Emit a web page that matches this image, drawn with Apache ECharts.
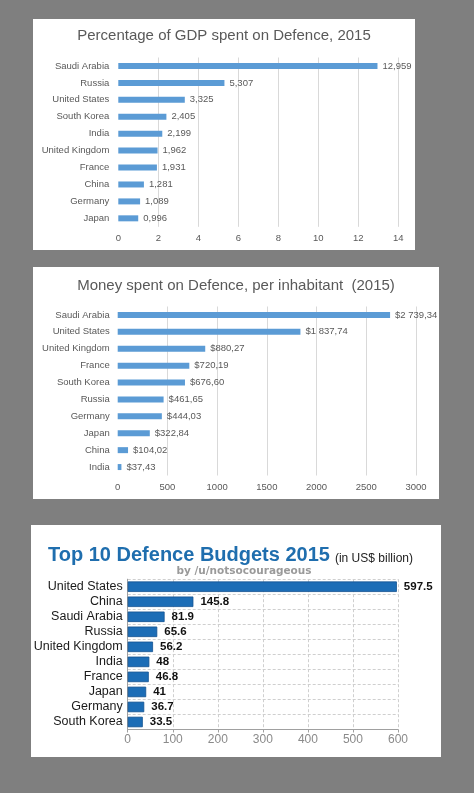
<!DOCTYPE html>
<html>
<head>
<meta charset="utf-8">
<script src="https://cdn.jsdelivr.net/npm/echarts@6/dist/echarts.min.js"></script>
<style>
html,body{margin:0;padding:0;background:#7f7f7f;}
#chart{width:474px;height:793px;}
</style>
</head>
<body>
<div id="chart"></div>
<script>
// ---- Data ----
var gdpCategories = ['Saudi Arabia','Russia','United States','South Korea','India','United Kingdom','France','China','Germany','Japan'];
var gdpValues = [12.959, 5.307, 3.325, 2.405, 2.199, 1.962, 1.931, 1.281, 1.089, 0.996];
var gdpTicks = {min: 0, max: 14, interval: 2};

var perCapCategories = ['Saudi Arabia','United States','United Kingdom','France','South Korea','Russia','Germany','Japan','China','India'];
var perCapValues = [2739.34, 1837.74, 880.27, 720.19, 676.60, 461.65, 444.03, 322.84, 104.02, 37.43];
var perCapTicks = {min: 0, max: 3000, interval: 500};

var budgetCategories = ['United States','China','Saudi Arabia','Russia','United Kingdom','India','France','Japan','Germany','South Korea'];
var budgetValues = [597.5, 145.8, 81.9, 65.6, 56.2, 48, 46.8, 41, 36.7, 33.5];
var budgetTicks = {min: 0, max: 600, interval: 100};

var titles = {
  gdp: 'Percentage of GDP spent on Defence, 2015',
  perCap: 'Money spent on Defence, per inhabitant  (2015)',
  budget: 'Top 10 Defence Budgets 2015',
  budgetUnit: '(in US$ billion)',
  budgetBy: 'by /u/notsocourageous'
};

// ---- Formatters ----
function fmtGdp(v){ return v.toFixed(3).replace('.', ','); }
function fmtPerCap(v){
  var parts = v.toFixed(2).split('.');
  var intPart = parts[0].replace(/\B(?=(\d{3})+(?!\d))/g, ' ');
  return '$' + intPart + ',' + parts[1];
}
function plain(v){ return String(v); }

var chart = echarts.init(document.getElementById('chart'));
var grayText = '#595959';
var font = 'Liberation Sans, Arial, sans-serif';

var option = {
  backgroundColor: '#7f7f7f',
  animation: false,
  graphic: [
    {type:'rect', shape:{x:33, y:19, width:382, height:231}, style:{fill:'#ffffff'}, z:-10},
    {type:'rect', shape:{x:33, y:267, width:406, height:232}, style:{fill:'#ffffff'}, z:-10},
    {type:'rect', shape:{x:31, y:525, width:410, height:232}, style:{fill:'#ffffff'}, z:-10}
  ],
  title: [
    {text: titles.gdp, left: 224, top: 27, textAlign: 'center', padding: 0,
     textStyle:{fontFamily: font, fontSize: 15, fontWeight: 'normal', color: '#595959', lineHeight: 18}},
    {text: titles.perCap, left: 236, top: 277, textAlign: 'center', padding: 0,
     textStyle:{fontFamily: font, fontSize: 15, fontWeight: 'normal', color: '#595959', lineHeight: 18}},
    {text: '{a|' + titles.budget + '} {b|' + titles.budgetUnit + '}', left: 48, top: 541, padding: 0,
     textStyle:{rich:{
       a:{fontFamily: font, fontSize: 20, fontWeight: 'bold', color: '#1f6eae', lineHeight: 24, verticalAlign:'bottom'},
       b:{fontFamily: font, fontSize: 12, fontWeight: 'normal', color: '#222222', lineHeight: 20, verticalAlign:'bottom'}
     }}},
    {text: titles.budgetBy, left: 244, top: 565, textAlign: 'center', padding: 0,
     textStyle:{fontFamily: 'DejaVu Sans, sans-serif', fontSize: 10.5, fontWeight: 'bold', color: '#9a9a9a', lineHeight: 12}}
  ],
  grid: [
    {left: 118.3, width: 280, top: 57.5, height: 169.3},
    {left: 117.7, width: 298.3, top: 306.5, height: 169},
    {left: 127.7, width: 270.3, top: 579.2, height: 150.3}
  ],
  xAxis: [
    {type:'value', gridIndex:0, min:gdpTicks.min, max:gdpTicks.max, interval:gdpTicks.interval,
     axisLine:{show:false}, axisTick:{show:false},
     axisLabel:{fontFamily: font, fontSize: 9.5, color: grayText, margin: 7, formatter: plain},
     splitLine:{show:true, showMinLine:false, lineStyle:{color:'#d9d9d9', width:1}}},
    {type:'value', gridIndex:1, min:perCapTicks.min, max:perCapTicks.max, interval:perCapTicks.interval,
     axisLine:{show:false}, axisTick:{show:false},
     axisLabel:{fontFamily: font, fontSize: 9.5, color: grayText, margin: 7, formatter: plain},
     splitLine:{show:true, showMinLine:false, lineStyle:{color:'#d9d9d9', width:1}}},
    {type:'value', gridIndex:2, min:budgetTicks.min, max:budgetTicks.max, interval:budgetTicks.interval,
     axisLine:{show:true, lineStyle:{color:'#a0a0a0', width:1}},
     axisTick:{show:true, length:3, lineStyle:{color:'#a0a0a0'}},
     axisLabel:{fontFamily: font, fontSize: 12, color: '#8a8a8a', margin: 4, formatter: plain},
     splitLine:{show:true, lineStyle:{color:'#cfcfcf', width:1, type:[3,2]}}}
  ],
  yAxis: [
    {type:'category', gridIndex:0, data: gdpCategories, inverse:true,
     axisLine:{show:false}, axisTick:{show:false},
     axisLabel:{fontFamily: font, fontSize: 9.5, color: grayText, margin: 9, interval: 0}},
    {type:'category', gridIndex:1, data: perCapCategories, inverse:true,
     axisLine:{show:false}, axisTick:{show:false},
     axisLabel:{fontFamily: font, fontSize: 9.5, color: grayText, margin: 8, interval: 0}},
    {type:'category', gridIndex:2, data: budgetCategories, inverse:true,
     axisLine:{show:true, lineStyle:{color:'#a0a0a0', width:1}}, axisTick:{show:false},
     axisLabel:{fontFamily: font, fontSize: 12.5, color: '#1a1a1a', margin: 5, interval: 0},
     splitLine:{show:true, interval: 0, lineStyle:{color:'#cfcfcf', width:1, type:[3,2]}}}
  ],
  series: [
    {type:'bar', xAxisIndex:0, yAxisIndex:0, data: gdpValues, barWidth: 6,
     itemStyle:{color:'#5b9bd5'},
     label:{show:true, position:'right', distance:5, fontFamily: font, fontSize: 9.5, color: grayText,
            formatter: function(p){ return fmtGdp(p.value); }}},
    {type:'bar', xAxisIndex:1, yAxisIndex:1, data: perCapValues, barWidth: 6,
     itemStyle:{color:'#5b9bd5'},
     label:{show:true, position:'right', distance:5, fontFamily: font, fontSize: 9.5, color: grayText,
            formatter: function(p){ return fmtPerCap(p.value); }}},
    {type:'bar', xAxisIndex:2, yAxisIndex:2, data: budgetValues, barWidth: 10.5,
     itemStyle:{color:'#1c6db6', borderColor:'#125291', borderWidth:0.8},
     label:{show:true, position:'right', distance:7, fontFamily: font, fontSize: 11.5, fontWeight:'bold', color: '#111111',
            formatter: function(p){ return String(p.value); }}}
  ]
};
chart.setOption(option);
</script>
</body>
</html>
